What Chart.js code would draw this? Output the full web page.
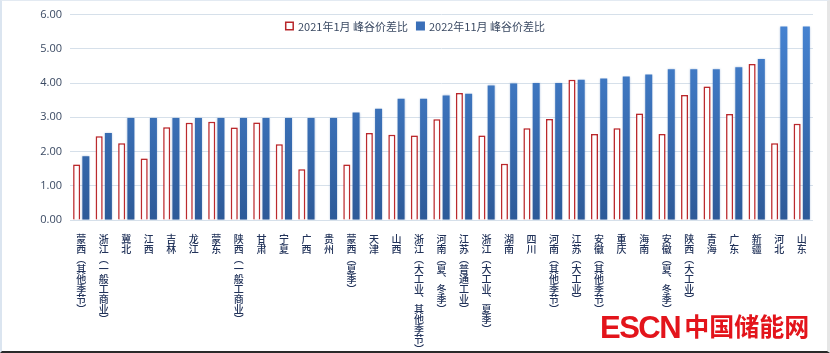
<!DOCTYPE html>
<html lang="zh">
<head>
    <meta charset="UTF-8">
    <title>峰谷价差比</title>
    <script src="https://cdn.jsdelivr.net/npm/chart.js@4.4.1/dist/chart.umd.min.js"></script>
    <style>
        html, body { margin: 0; padding: 0; background: #fff; }
        #wrap { position: relative; width: 830px; height: 353px; overflow: hidden; }
        #myChart { position: absolute; left: 0; top: 0; }
        #frame {
            position: absolute; left: 0; top: 0; width: 830px; height: 353px;
            box-sizing: border-box; pointer-events: none;
            border-left: 2px solid #dbe5f0;
            border-top: 1px solid #e3eaf2;
            border-right: 3px solid #e6e6e6;
            border-bottom: 2px solid #2a2a2a;
        }
        #logo {
            position: absolute; left: 600px; top: 309px;
            color: #e3141b; font-weight: bold; white-space: nowrap;
        }
        #logo .en { font-family: "Liberation Sans", Arial, sans-serif; font-size: 31px; letter-spacing: -1.5px; }
        #logo .cn { font-family: "Noto Sans CJK SC", sans-serif; font-size: 25px; margin-left: 4px; position: relative; top: -2px; }
    </style>
</head>
<body>
<div id="wrap">
    <canvas id="myChart" width="830" height="353"></canvas>
    <div id="logo"><span class="en">ESCN</span><span class="cn">中国储能网</span></div>
    <div id="frame"></div>
</div>

<script>
    const categories = [
        "蒙西(其他季节)", "浙江(一般工商业)", "冀北", "江西", "吉林", "龙江", "蒙东",
        "陕西(一般工商业)", "甘肃", "宁夏", "广西", "贵州", "蒙西(夏季)", "天津", "山西",
        "浙江(大工业、其他季节)", "河南(夏、冬季)", "江苏(普通工业)", "浙江(大工业、夏季)",
        "湖南", "四川", "河南(其他季节)", "江苏(大工业)", "安徽(其他季节)", "重庆", "海南",
        "安徽(夏、冬季)", "陕西(大工业)", "青海", "广东", "新疆", "河北", "山东"
    ];
    const ratio2021 = [
        1.62, 2.45, 2.24, 1.80, 2.71, 2.84, 2.87,
        2.70, 2.85, 2.21, 1.48, null, 1.62, 2.54, 2.49,
        2.47, 2.94, 3.71, 2.47,
        1.64, 2.68, 2.95, 4.10, 2.51, 2.68, 3.11,
        2.51, 3.65, 3.90, 3.10, 4.56, 2.24, 2.81
    ];
    const ratio2022 = [
        1.86, 2.54, 2.98, 2.98, 2.98, 2.98, 2.98,
        2.98, 2.98, 2.98, 2.98, 2.98, 3.14, 3.25, 3.54,
        3.54, 3.64, 3.69, 3.93,
        3.99, 4.00, 4.00, 4.10, 4.13, 4.19, 4.25,
        4.40, 4.40, 4.40, 4.46, 4.70, 5.65, 5.65
    ];
    const yTicks = [0, 1, 2, 3, 4, 5, 6];

    // vertical writing: one character per line, rotated punctuation
    let toVertical = function (s) {
        return s.replace(/\(/g, "︵").replace(/\)/g, "︶").replace(/、/g, "︑").split("");
    };

    let textColor = "#3b4a63";
    let cjk = '"Noto Sans CJK SC", "Noto Sans", sans-serif';

    // legend drawn over the plot, centred on the canvas
    const topLegend = {
        id: "topLegend",
        afterDraw(chart) {
            let ctx = chart.ctx;
            ctx.save();
            ctx.font = "11px " + cjk;
            ctx.textBaseline = "middle";
            let box = 9, gap = 4, itemGap = 8, y = 26;
            let items = chart.data.datasets.map(d => ({ ds: d, w: box + gap + ctx.measureText(d.label).width }));
            let total = items.reduce((a, b) => a + b.w, 0) + itemGap * (items.length - 1);
            let x = chart.width / 2 - total / 2;
            items.forEach((it, i) => {
                if (i === 0) {
                    ctx.fillStyle = "#fff";
                    ctx.fillRect(x, y - box / 2, box, box);
                    ctx.strokeStyle = "#b8262a";
                    ctx.lineWidth = 1.5;
                    ctx.strokeRect(x + 0.75, y - box / 2 + 0.75, box - 1.5, box - 1.5);
                } else {
                    ctx.fillStyle = "#3a6fb8";
                    ctx.fillRect(x, y - box / 2, box, box);
                }
                ctx.fillStyle = textColor;
                ctx.fillText(it.ds.label, x + box + gap, y + 1);
                x += it.w + itemGap;
            });
            ctx.restore();
        }
    };

    // soft glow round the bars
    const barShadow = {
        id: "barShadow",
        beforeDatasetDraw(chart, args) {
            let ctx = chart.ctx;
            ctx.save();
            ctx.shadowBlur = 2;
            ctx.shadowColor = args.index === 0 ? "rgba(214, 90, 90, 0.45)" : "rgba(60, 110, 180, 0.35)";
        },
        afterDatasetDraw(chart) {
            chart.ctx.restore();
        }
    };

    let blueFill = function (context) {
        let chart = context.chart;
        let area = chart.chartArea;
        if (!area) return "#3a6fb8";
        let g = chart.ctx.createLinearGradient(0, area.top, 0, area.bottom);
        g.addColorStop(0, "#4785d4");
        g.addColorStop(1, "#2d5a98");
        return g;
    };

    new Chart(document.getElementById("myChart"), {
        type: "bar",
        data: {
            labels: categories.map(toVertical),
            datasets: [
                {
                    label: "2021年1月 峰谷价差比",
                    data: ratio2021,
                    backgroundColor: "#ffffff",
                    borderColor: "#b8262a",
                    borderWidth: 1.5,
                    categoryPercentage: 0.82,
                    barPercentage: 0.76,
                },
                {
                    label: "2022年11月 峰谷价差比",
                    data: ratio2022,
                    backgroundColor: blueFill,
                    borderWidth: 0,
                    categoryPercentage: 0.82,
                    barPercentage: 0.76,
                },
            ]
        },
        options: {
            responsive: false,
            animation: false,
            layout: {
                padding: { top: 14, left: 0, right: 17, bottom: 0 },
            },
            plugins: {
                legend: { display: false },
                tooltip: { enabled: false },
            },
            scales: {
                x: {
                    border: { display: false },
                    grid: { display: false },
                    ticks: {
                        autoSkip: false,
                        maxRotation: 0,
                        minRotation: 0,
                        padding: 6,
                        color: "#22335a",
                        font: { family: cjk, size: 10, weight: "500", lineHeight: 1.0 },
                    },
                    afterFit: function (scale) { scale.height = 133; },
                },
                y: {
                    min: 0,
                    max: 6,
                    border: { display: false },
                    grid: { color: "#d6e0ea", lineWidth: 1, drawTicks: false },
                    afterBuildTicks: function (scale) {
                        scale.ticks = yTicks.map(v => ({ value: v }));
                    },
                    ticks: {
                        padding: 8,
                        color: textColor,
                        font: { family: '"Open Sans", "Noto Sans", sans-serif', size: 11 },
                        callback: v => Number(v).toFixed(2),
                    },
                    afterFit: function (scale) { scale.width = 70; },
                },
            }
        },
        plugins: [topLegend, barShadow],
    });
</script>
</body>
</html>
